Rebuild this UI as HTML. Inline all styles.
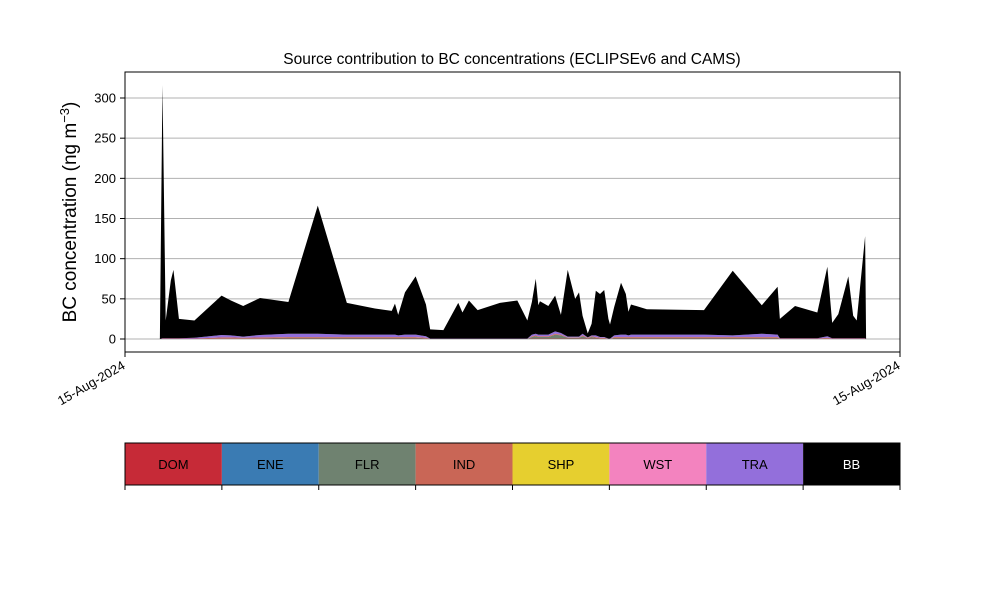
<!DOCTYPE html>
<html><head><meta charset="utf-8">
<style>
body{margin:0;background:#fff;width:1000px;height:600px;overflow:hidden}
svg{font-family:"Liberation Sans","DejaVu Sans",sans-serif}
</style></head>
<body>
<svg id="chart" width="1000" height="600" xmlns="http://www.w3.org/2000/svg">
<text x="512" y="64" font-size="15.5" text-anchor="middle">Source contribution to BC concentrations (ECLIPSEv6 and CAMS)</text>
<g id="grid"></g>
<g id="areas"></g>
<rect x="125" y="72" width="775" height="280" fill="none" stroke="#000" stroke-width="1"/>
<g id="yaxis"></g>
<g id="xaxis"></g>
<text transform="translate(76,212) rotate(-90)" font-size="19" text-anchor="middle">BC concentration (ng m<tspan dy="-7" font-size="13">−3</tspan><tspan dy="7">)</tspan></text>
<g id="legend"></g>
</svg>
<script>
const times=[1.08,1.16,1.26,1.42,1.50,1.67,2.15,2.99,3.28,3.66,4.18,5.06,5.97,6.87,7.74,8.26,8.36,8.46,8.67,9.00,9.32,9.45,9.86,10.32,10.45,10.65,10.92,11.61,12.15,12.46,12.60,12.72,12.80,12.85,13.11,13.32,13.50,13.71,13.94,14.06,14.17,14.33,14.45,14.58,14.71,14.84,14.97,15.02,15.15,15.36,15.51,15.59,15.67,16.16,17.93,18.82,19.72,20.21,20.28,20.75,21.44,21.75,21.90,22.09,22.40,22.55,22.66,22.92,22.95];
const dom=[0,0.5,0.5,0.5,0.5,0.5,0.5,0.5,0.5,0.5,0.5,0.5,0.5,0.5,0.5,0.5,0.5,0.5,0.5,0.5,0.5,0.2,0.2,0.2,0.2,0.2,0.2,0.2,0.2,0.2,0.5,0.5,0.5,0.5,0.5,0.5,0.5,0.5,0.5,0.5,0.5,0.5,0.5,0.5,0.5,0.5,0.2,0.2,0.5,0.5,0.5,0.5,0.5,0.5,0.5,0.5,0.5,0.5,0.5,0.5,0.5,0.5,0.5,0.5,0.5,0.5,0.5,0.5,0];
const flr=[0,0,0,0,0,0,0,0.5,0.5,0.5,0.5,1,1,1,1,1,1,1,1,1,0.5,0,0,0,0,0,0,0,0,0,2,3,2,2,2,5,4,1,1,1,3,0.5,2,1,0.5,0.5,0,0,1,1,1,1,1,1,1,1,1,1,0,0,0,0.5,0,0,0,0,0,0,0];
const ind=[0,0,0,0,0,0,0,1,1,0.5,1,1,1,1,1,1,1,1,1,1,0.5,0,0,0,0,0,0,0,0,0,1,1,1,1,1,1,1,0.5,0.5,0.5,1,0.5,1,1,0.5,0.5,0,0,1,1,1,1,1,1,1,1,1,1,0,0,0,0.5,0,0,0,0,0,0,0];
const tra=[0,0.5,0.5,0.5,0.5,0.5,1,3,2.5,1.5,3,4,4,3,3,3,3,2,3,3,2,0.3,0.3,0.3,0.3,0.3,0.3,0.3,0.3,0.3,2,2,2,2,2,3,2,1,1,1,2,0.5,1,2,1,1,0.3,0.3,2,3,3,2,3,3,3,2,4,3,0.5,0.5,0.5,2,0.5,0.5,0.5,0.5,0.5,0.5,0];
const bb=[0,315,22,72,85,24,21.5,49,43.5,38,46,39.5,159.5,39.5,32.5,29.5,38.5,25.5,52.5,72.5,39.5,11.5,10.5,44.5,32.5,47.5,35.5,44.5,47.5,22.5,40.5,68.5,36.5,41.5,35.5,44.5,22.5,83,47,55,22.5,5,14.5,55.5,53.5,58.5,24.5,17.5,35.5,64.5,50.5,29.5,37.5,31.5,30.5,80.5,35.5,59.5,24,40,32,86.5,19,30,77,28,22,127,0];
const yTicks=[0,50,100,150,200,250,300];
const xTickLabels=["15-Aug-2024","15-Aug-2024"];
const xTickVals=[0,24];
const legendNames=["DOM","ENE","FLR","IND","SHP","WST","TRA","BB"];
const legendColors=["#c62a37","#3a7bb3","#6f8270","#c96656","#e6cf2f","#f383bf","#936fdb","#000000"];

const NS="http://www.w3.org/2000/svg";
const X=t=>125+t/24*775;
const Y=v=>339-v*0.8033;
function mk(tag,attrs,parent){const e=document.createElementNS(NS,tag);for(const k in attrs)e.setAttribute(k,attrs[k]);parent.appendChild(e);return e;}

const grid=document.getElementById('grid'),yax=document.getElementById('yaxis');
yTicks.forEach(v=>{
  const g=mk('line',{x1:125,x2:900,y1:Y(v),y2:Y(v),stroke:'#b0b0b0','stroke-width':1},grid);
  
  
  const tk=mk('line',{x1:120,x2:125,y1:Y(v),y2:Y(v),stroke:'#000'},yax);
  
  
  const tx=mk('text',{x:116,y:Y(v)+4.5,'font-size':13,'text-anchor':'end'},yax);
  tx.textContent=v;
  
  
});
const xax=document.getElementById('xaxis');
xTickVals.forEach((t,i)=>{
  const tk=mk('line',{x1:X(t),x2:X(t),y1:352,y2:357,stroke:'#000'},xax);
  
  
  const tx=mk('text',{transform:`translate(${X(t)+1},${368}) rotate(-30)`,'font-size':13,'text-anchor':'end'},xax);
  tx.textContent=xTickLabels[i];
  
  
});

const series=[["DOM",dom,legendColors[0]],["FLR",flr,legendColors[2]],["IND",ind,legendColors[3]],["TRA",tra,legendColors[6]],["BB",bb,legendColors[7]]];
const areas=document.getElementById('areas');
let base=times.map(()=>0);
series.forEach(([name,vals,col])=>{
  const top=base.map((b,i)=>b+vals[i]);
  let d='M'+times.map((t,i)=>X(t).toFixed(2)+','+Y(top[i]).toFixed(2)).join('L');
  for(let i=times.length-1;i>=0;i--)d+='L'+X(times[i]).toFixed(2)+','+Y(base[i]).toFixed(2);
  const p=mk('path',{d:d+'Z',fill:col,stroke:'none'},areas);
  
  
  base=top;
});

const leg=document.getElementById('legend');
const w=775/legendNames.length;
legendNames.forEach((n,i)=>{
  const r=mk('rect',{x:125+i*w,y:443,width:w,height:42,fill:legendColors[i]},leg);
  
  
  const t=mk('text',{x:125+i*w+w/2,y:469,'font-size':13,'text-anchor':'middle',fill:n==='BB'?'#fff':'#000'},leg);
  t.textContent=n;
  
  
});
for(let i=0;i<=legendNames.length;i++){
  const tk=mk('line',{x1:125+i*w,x2:125+i*w,y1:485,y2:490,stroke:'#000'},leg);
  
  
}
const fr=mk('rect',{x:125,y:443,width:775,height:42,fill:'none',stroke:'#000'},leg);


</script>
</body></html>
